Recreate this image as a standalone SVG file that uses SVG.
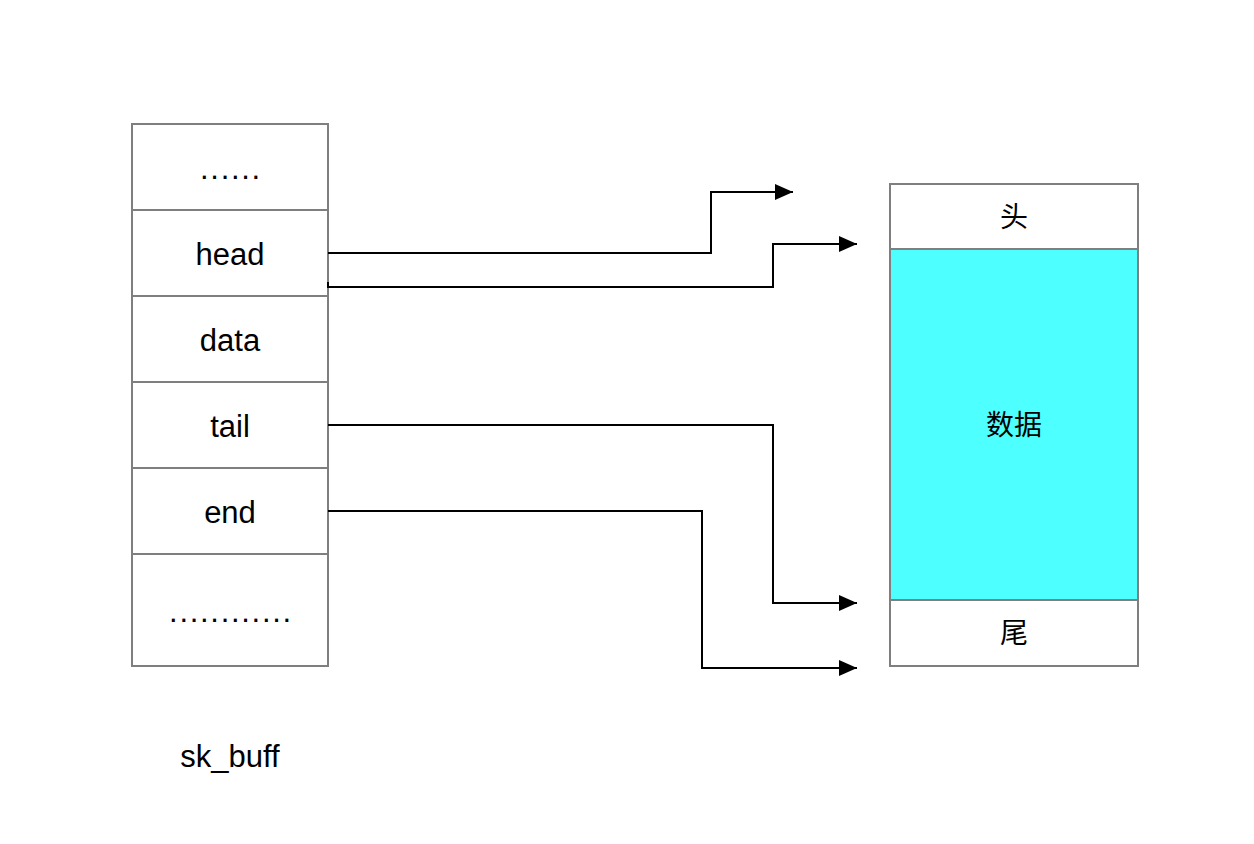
<svg xmlns="http://www.w3.org/2000/svg" width="1254" height="844" viewBox="0 0 1254 844">
<style>
.box{fill:#fff;stroke:#7f7f7f;stroke-width:2}
.data{fill:#4dffff;stroke:#7f7f7f;stroke-width:2}
.t{font-family:"Liberation Sans",Arial,"Noto Sans CJK SC",sans-serif;font-size:31px;fill:#000;text-anchor:middle;dominant-baseline:central}
.dots{letter-spacing:1.7px}
.c{fill:none;stroke:#000;stroke-width:2}
</style>
<defs>
<marker id="arr" markerUnits="userSpaceOnUse" markerWidth="20" markerHeight="16" refX="18" refY="8" orient="auto">
<path d="M0,0 L18,8 L0,16 Z" fill="#000"/>
</marker>
</defs>
<rect width="1254" height="844" fill="#fff"/>
<g id="skb">
<g id="r0"><rect class="box" x="132" y="124" width="196" height="86"/><text class="t dots" x="231" y="168">......</text></g>
<g id="r1"><rect class="box" x="132" y="210" width="196" height="86"/><text class="t" x="230" y="254">head</text></g>
<g id="r2"><rect class="box" x="132" y="296" width="196" height="86"/><text class="t" x="230" y="340">data</text></g>
<g id="r3"><rect class="box" x="132" y="382" width="196" height="86"/><text class="t" x="230" y="426">tail</text></g>
<g id="r4"><rect class="box" x="132" y="468" width="196" height="86"/><text class="t" x="230" y="512">end</text></g>
<g id="r5"><rect class="box" x="132" y="554" width="196" height="112"/><text class="t dots" x="231" y="611">............</text></g>
<g id="label"><text class="t" x="230" y="756">sk_buff</text></g>
</g>
<g id="buf">
<g id="head"><rect class="box" x="890" y="184" width="248" height="65"/><text class="t" x="1014" y="217" style="font-size:28px">头</text></g>
<g id="body"><rect class="data" x="890" y="249" width="248" height="351"/><text class="t" x="1014" y="425" style="font-size:28px">数据</text></g>
<g id="tail"><rect class="box" x="890" y="600" width="248" height="66"/><text class="t" x="1014" y="633" style="font-size:28px">尾</text></g>
</g>
<g id="connectors">
<path class="c" d="M328,253 H711 V192 H793" marker-end="url(#arr)"/>
<path class="c" d="M328,282 V287 H773 V244 H857" marker-end="url(#arr)"/>
<path class="c" d="M328,425 H773 V603 H857" marker-end="url(#arr)"/>
<path class="c" d="M328,511 H702 V668 H857" marker-end="url(#arr)"/>
</g>
</svg>
